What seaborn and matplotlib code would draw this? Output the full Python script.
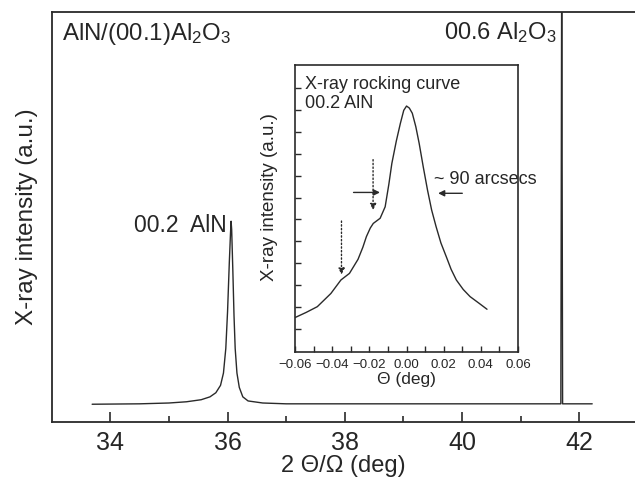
import numpy as np
import pandas as pd
import seaborn as sns
import matplotlib.pyplot as plt

# main 2theta/omega scan (a.u.)
two_theta = [33.69, 34.5, 35.0, 35.3, 35.55, 35.70, 35.80, 35.88, 35.93, 35.97, 36.00,
             36.03, 36.05, 36.06, 36.07, 36.09, 36.11, 36.13, 36.16, 36.20, 36.26,
             36.35, 36.6, 37.0, 41.685, 41.70, 41.715, 42.22]
intensity = [0.044, 0.045, 0.047, 0.050, 0.055, 0.062, 0.072, 0.090, 0.12, 0.18, 0.27,
             0.39, 0.46, 0.49, 0.47, 0.37, 0.26, 0.18, 0.12, 0.085, 0.062,
             0.052, 0.047, 0.045, 0.045, 1.15, 0.045, 0.045]

# rocking curve of 00.2 AlN
theta = [-0.060, -0.054, -0.048, -0.0407, -0.0353, -0.0307, -0.0261, -0.0235, -0.0216,
         -0.0195, -0.0179, -0.0142, -0.0115, -0.0095, -0.0079, -0.0055, -0.0033,
         -0.0015, 0.0, 0.0015, 0.0031, 0.0050, 0.0068, 0.0090, 0.0113, 0.0135, 0.0159,
         0.0185, 0.0214, 0.0240, 0.0268, 0.0305, 0.0342, 0.0390, 0.0433]
rock = [0.12, 0.138, 0.158, 0.204, 0.251, 0.274, 0.323, 0.365, 0.402, 0.432, 0.448,
        0.466, 0.506, 0.585, 0.657, 0.735, 0.797, 0.842, 0.857, 0.850, 0.832,
        0.785, 0.727, 0.645, 0.564, 0.495, 0.437, 0.380, 0.332, 0.288, 0.251,
        0.218, 0.193, 0.170, 0.149]

main_ticks = [34, 36, 38, 40, 42]
inset_ticks = [-0.06, -0.04, -0.02, 0.00, 0.02, 0.04, 0.06]

sns.set_style("ticks")
plt.rcParams['font.family'] = ['Liberation Sans', 'DejaVu Sans']
plt.rcParams['mathtext.fontset'] = 'custom'
plt.rcParams['mathtext.rm'] = 'Liberation Sans'
plt.rcParams['mathtext.it'] = 'Liberation Sans'

ink = '#2a2a2a'
fig = plt.figure(figsize=(6.35, 4.79), dpi=100)
ax = fig.add_axes([0.0814, 0.1184, 0.9186, 0.8566])

scan = pd.DataFrame({"x": two_theta, "y": intensity})
sns.lineplot(data=scan, x="x", y="y", ax=ax, color=ink, linewidth=1.0)
ax.set_xlim(33.0, 42.95)
ax.set_ylim(0, 1)
ax.set_xticks(main_ticks)
ax.set_xticks([35, 37, 39, 41], minor=True)
ax.set_yticks([])
ax.tick_params(axis='x', which='major', direction='in', length=7, width=1.2,
               labelsize=18, color=ink, pad=6)
ax.tick_params(axis='x', which='minor', direction='in', length=4, width=1.2, color=ink)
for s in ['left', 'bottom', 'top']:
    ax.spines[s].set_color(ink)
    ax.spines[s].set_linewidth(1.3)
ax.spines['right'].set_visible(False)
ax.set_xlabel("2 Θ/Ω (deg)", fontsize=17, labelpad=0)
ax.set_ylabel("X-ray intensity (a.u.)", fontsize=17.5, labelpad=10)

ax.text(0.018, 0.978, "AlN/(00.1)Al$_2$O$_3$", transform=ax.transAxes,
        fontsize=17.3, va='top', ha='left')
ax.text(41.62, 0.95, "00.6 Al$_2$O$_3$", fontsize=17, va='center', ha='right')
ax.text(35.98, 0.48, "00.2  AlN", fontsize=16.5, va='center', ha='right')

# inset
ins = fig.add_axes([0.4646, 0.2651, 0.3512, 0.5992])
rc = pd.DataFrame({"x": theta, "y": rock})
sns.lineplot(data=rc, x="x", y="y", ax=ins, color=ink, linewidth=1.0)
ins.set_xlim(-0.06, 0.06)
ins.set_ylim(0, 1)
ins.set_xticks(inset_ticks)
ins.set_xticklabels(["\u22120.06", "\u22120.04", "\u22120.02", "0.00", "0.02", "0.04", "0.06"])
ins.set_xticks(np.arange(-0.05, 0.06, 0.02), minor=True)
ins.set_yticks(np.linspace(0.08, 0.92, 12))
ins.set_yticklabels([])
ins.tick_params(axis='both', which='both', direction='in', length=4, width=1.0,
                labelsize=9.5, color=ink, pad=5)
for s in ins.spines.values():
    s.set_color(ink)
    s.set_linewidth(1.2)
ins.set_xlabel("Θ (deg)", fontsize=12.5, labelpad=1)
ins.set_ylabel("X-ray intensity (a.u.)", fontsize=13.5, labelpad=3)
ins.yaxis.set_label_coords(-0.075, 0.54)

ins.text(-0.0545, 0.96, "X-ray rocking curve\n00.2 AlN", fontsize=13,
         va='top', ha='left', linespacing=1.15)
ins.text(0.015, 0.60, "~ 90 arcsecs", fontsize=13, va='center', ha='left', clip_on=False)

solid = dict(arrowstyle='-|>', color=ink, lw=1.0, mutation_scale=9)
ins.annotate("", xy=(-0.0128, 0.556), xytext=(-0.030, 0.556), arrowprops=solid)
ins.annotate("", xy=(0.0155, 0.553), xytext=(0.0315, 0.553), arrowprops=solid)
dotted = dict(arrowstyle='-|>', color=ink, lw=1.0, linestyle=':', mutation_scale=9)
ins.annotate("", xy=(-0.018, 0.485), xytext=(-0.018, 0.68), arrowprops=dotted)
ins.annotate("", xy=(-0.035, 0.26), xytext=(-0.035, 0.466), arrowprops=dotted)

fig.savefig("out.png", dpi=100)
